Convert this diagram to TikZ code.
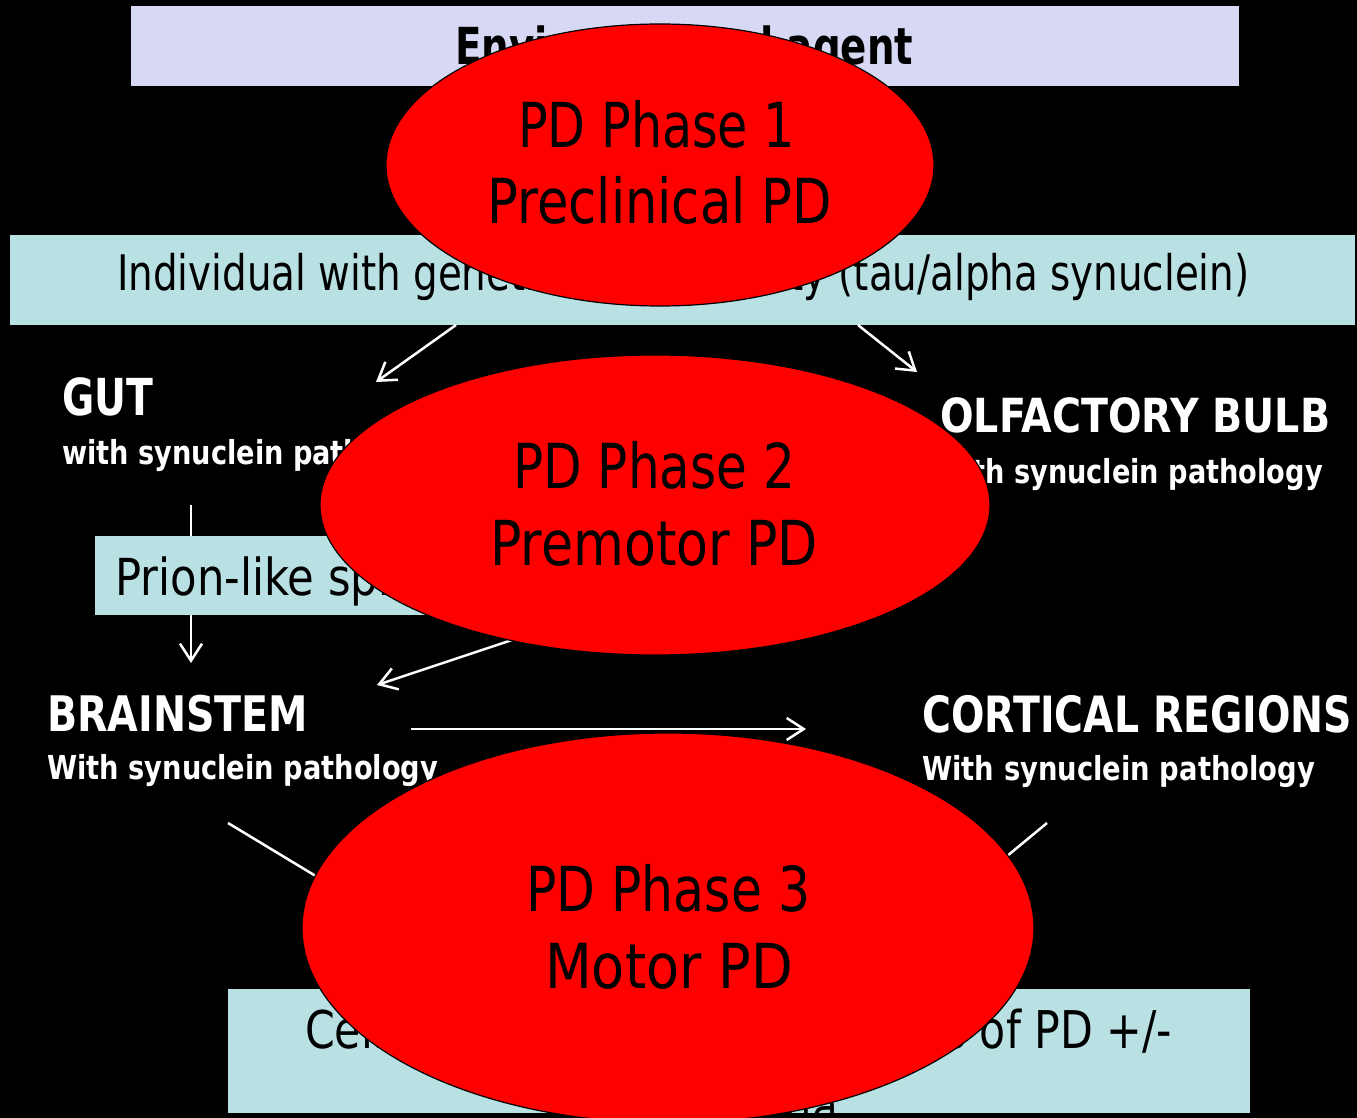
\documentclass[tikz,border=0pt]{standalone}
\usepackage{fontspec}
\setmainfont{DejaVu Sans}
\usepackage{graphicx}
\usetikzlibrary{shapes.geometric,arrows.meta}

\definecolor{lavender}{RGB}{214,216,244}
\definecolor{paleblue}{RGB}{185,224,227}

% squeeze a text to a given width (pt) keeping its height
\newcommand{\fitto}[2]{\resizebox{#1pt}{\height}{#2}}
\newcommand{\squeeze}[2]{\scalebox{#1}[1]{#2}}
\newcommand{\sz}[1]{\fontsize{#1}{#1}\selectfont}

\tikzset{
  lbl/.style={inner sep=0pt, anchor=base west, text=white, font=\bfseries},
  dark/.style={inner sep=0pt, anchor=base west, text=black},
  phase/.style={ellipse, fill=red, draw=black, line width=1.2pt, inner sep=0pt},
  panel/.style={rectangle, inner sep=0pt, draw=none},
  arr/.style={draw=white, line width=2.5pt, -{Straight Barb[length=17pt,width=22pt]}},
  plain/.style={draw=white, line width=2.5pt},
}

\begin{document}
\begin{tikzpicture}[x=1pt, y=-1pt]
  \useasboundingbox (0,0) rectangle (1357,1118);
  \fill[black] (0,0) rectangle (1357,1118);

  % ---- panels ----
  \node[panel, fill=lavender, minimum width=1108pt, minimum height=80pt] (envbox) at (685,46) {};
  \node[dark, font=\bfseries] (envtxt) at (455,65) {\sz{51}\fitto{458}{Environmental agent}};

  \node[panel, fill=paleblue, minimum width=1345pt, minimum height=90pt] (genbox) at (682.5,280) {};
  \node[dark] (gentxt) at (117,290) {\sz{49}\fitto{1132}{Individual with genetic susceptibility (tau/alpha synuclein)}};

  % ---- region labels ----
  \node[lbl] (gut) at (62,415) {\sz{51}\fitto{91}{GUT}};
  \node[lbl] (gutsub) at (62,464) {\sz{33}\fitto{385}{with synuclein pathology}};

  \node[lbl] (olf) at (940,432) {\sz{47}\fitto{390}{OLFACTORY BULB}};
  \node[lbl, anchor=base east] (olfsub) at (1323,483) {\sz{33}\fitto{385}{with synuclein pathology}};

  \node[lbl] (brain) at (47,731) {\sz{49}\fitto{261}{BRAINSTEM}};
  \node[lbl] (brainsub) at (47,779) {\sz{33}\fitto{391}{With synuclein pathology}};

  \node[lbl] (cort) at (922,732) {\sz{50}\fitto{430}{CORTICAL REGIONS}};
  \node[lbl] (cortsub) at (922,780) {\sz{33}\fitto{393}{With synuclein pathology}};

  % ---- spread from gut to brainstem ----
  \coordinate (gutdown) at (191,505);
  \coordinate (brainup) at (191,663);
  \draw[arr] (gutdown) -- (brainup);
  \node[panel, fill=paleblue, minimum width=405pt, minimum height=79pt] (prionbox) at (297.5,575.5) {};
  \node[dark] (priontxt) at (115,595) {\sz{51}\squeeze{0.85}{Prion-like spread}};

  % ---- bottom panel ----
  \node[panel, fill=paleblue, minimum width=1022pt, minimum height=124pt] (endbox) at (739,1051) {};
  \node[dark] (endtxt1) at (305,1048) {\sz{52}\fitto{867}{Cell death and clinical features of PD +/-}};
  \node[dark] (endtxt2) at (638,1124) {\sz{52}\fitto{200}{dementia}};

  % ---- connectors ----
  \coordinate (g1) at (456,325);
  \coordinate (g2) at (376,382);
  \draw[arr] (g1) -- (g2);
  \coordinate (o1) at (858,325);
  \coordinate (o2) at (917,372);
  \draw[arr] (o1) -- (o2);
  \coordinate (b1) at (560,624);
  \coordinate (b2) at (377,685);
  \draw[arr] (b1) -- (b2);
  \coordinate (c1) at (411,729);
  \coordinate (c2) at (806,729);
  \draw[arr] (c1) -- (c2);
  \coordinate (l1) at (228,823);
  \coordinate (l2) at (420,939);
  \draw[plain] (l1) -- (l2);
  \coordinate (r1) at (1047,823);
  \coordinate (r2) at (960,895);
  \draw[plain] (r1) -- (r2);

  % ---- phase ellipses ----
  \node[phase, minimum width=548pt, minimum height=282pt] (ph1) at (660,165) {};
  \node[dark] (ph1a) at (518,148) {\sz{62}\fitto{277}{PD Phase 1}};
  \node[dark] (ph1b) at (487,223) {\sz{62}\fitto{345}{Preclinical PD}};

  \node[phase, minimum width=670pt, minimum height=300pt] (ph2) at (655,505) {};
  \node[dark] (ph2a) at (513,488) {\sz{62}\fitto{282}{PD Phase 2}};
  \node[dark] (ph2b) at (490,565) {\sz{62}\fitto{328}{Premotor PD}};

  \node[phase, minimum width=732pt, minimum height=390pt] (ph3) at (668,928) {};
  \node[dark] (ph3a) at (526,911) {\sz{62}\fitto{284}{PD Phase 3}};
  \node[dark] (ph3b) at (545,988) {\sz{62}\fitto{248}{Motor PD}};
\end{tikzpicture}
\end{document}
